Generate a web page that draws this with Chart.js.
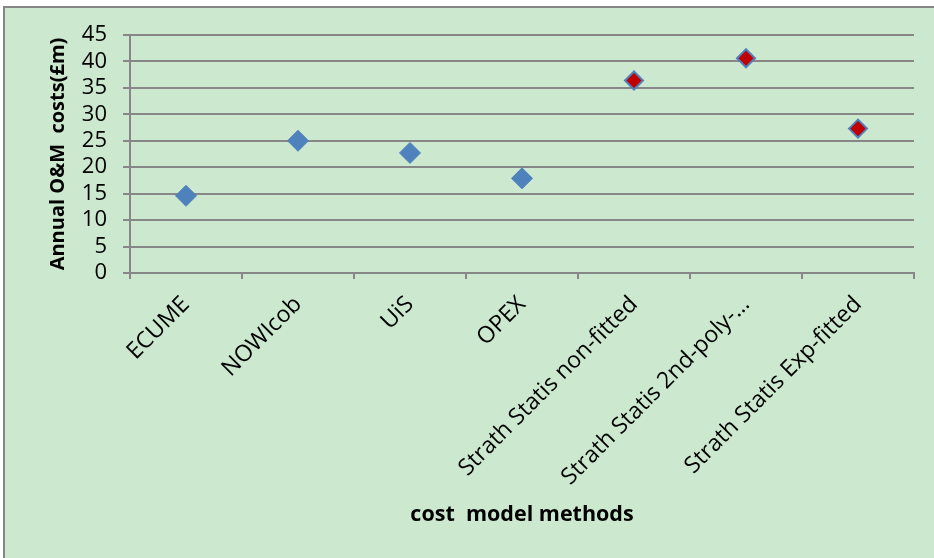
<!DOCTYPE html>
<html>
<head>
<meta charset="utf-8">
<script src="https://cdn.jsdelivr.net/npm/chart.js@4/dist/chart.umd.min.js"></script>
<style>
  html, body { margin: 0; padding: 0; background: #ffffff; }
  body { width: 934px; height: 558px; position: relative; overflow: hidden; }
  #panel {
    position: absolute; left: 3px; top: 6px; width: 960px; height: 580px;
    background: #cce8cf; border: 2px solid #868686; box-sizing: border-box;
  }
  #wrap { position: absolute; left: 0; top: 0; width: 934px; height: 558px; }
</style>
</head>
<body>
<div id="panel"></div>
<div id="wrap"><canvas id="chart" width="934" height="558"></canvas></div>
<script>
// Cost model methods and their estimated annual O&M costs (£m)
const categories = [
  "ECUME",
  "NOWIcob",
  "UiS",
  "OPEX",
  "Strath Statis non-fitted",
  "Strath Statis 2nd-poly-\u2026",
  "Strath Statis Exp-fitted"
];
const annualCosts = [14.6, 25.0, 22.7, 17.9, 36.4, 40.6, 27.3];
// which family each model belongs to (drives the marker fill)
const modelFamily = ["other", "other", "other", "other", "strath", "strath", "strath"];
const yTicks = [0, 5, 10, 15, 20, 25, 30, 35, 40, 45];

const BLUE = "#4f81bd";
const RED = "#c00000";
const GRID = "#878787";
const FONT = "'Open Sans', Lato, sans-serif";

const fills = modelFamily.map(f => f === "strath" ? RED : BLUE);
const radii = modelFamily.map(f => f === "strath" ? 9 : 10.5);
const borders = modelFamily.map(f => f === "strath" ? 2 : 1);

new Chart(document.getElementById("chart"), {
  type: "line",
  data: {
    labels: categories,
    datasets: [{
      data: annualCosts,
      showLine: false,
      pointStyle: "rectRot",
      pointRadius: radii,
      pointHoverRadius: radii,
      pointBackgroundColor: fills,
      pointBorderColor: BLUE,
      pointBorderWidth: borders
    }]
  },
  options: {
    responsive: false,
    animation: false,
    events: [],
    layout: { padding: { top: 35, right: 20, bottom: 0, left: 0 } },
    plugins: { legend: { display: false }, tooltip: { enabled: false } },
    scales: {
      x: {
        type: "category",
        offset: true,
        grid: { offset: true, drawOnChartArea: false, drawTicks: true, tickLength: 6, color: GRID, lineWidth: 2 },
        border: { color: GRID, width: 2 },
        ticks: {
          minRotation: 45, maxRotation: 45, autoSkip: false, padding: 12,
          color: "#000", font: { family: FONT, size: 23 }
        },
        title: {
          display: true, text: "cost  model methods", color: "#000",
          font: { family: FONT, size: 21.5, weight: "bold" },
          padding: { top: 0, bottom: 30 }
        },
        afterFit: s => { s.height = 285; }
      },
      y: {
        min: 0, max: 45,
        afterBuildTicks: s => { s.ticks = yTicks.map(v => ({ value: v })); },
        grid: { color: GRID, lineWidth: 2, tickLength: 7 },
        border: { color: GRID, width: 2 },
        ticks: { autoSkip: false, padding: 16, color: "#000", font: { family: FONT, size: 22 } },
        title: {
          display: true, text: "Annual O&M  costs(\u00a3m)", color: "#000",
          font: { family: FONT, size: 20, weight: "bold" },
          padding: { top: 46, bottom: 0 }
        },
        afterFit: s => { s.width = 130; }
      }
    }
  }
});
</script>
</body>
</html>
